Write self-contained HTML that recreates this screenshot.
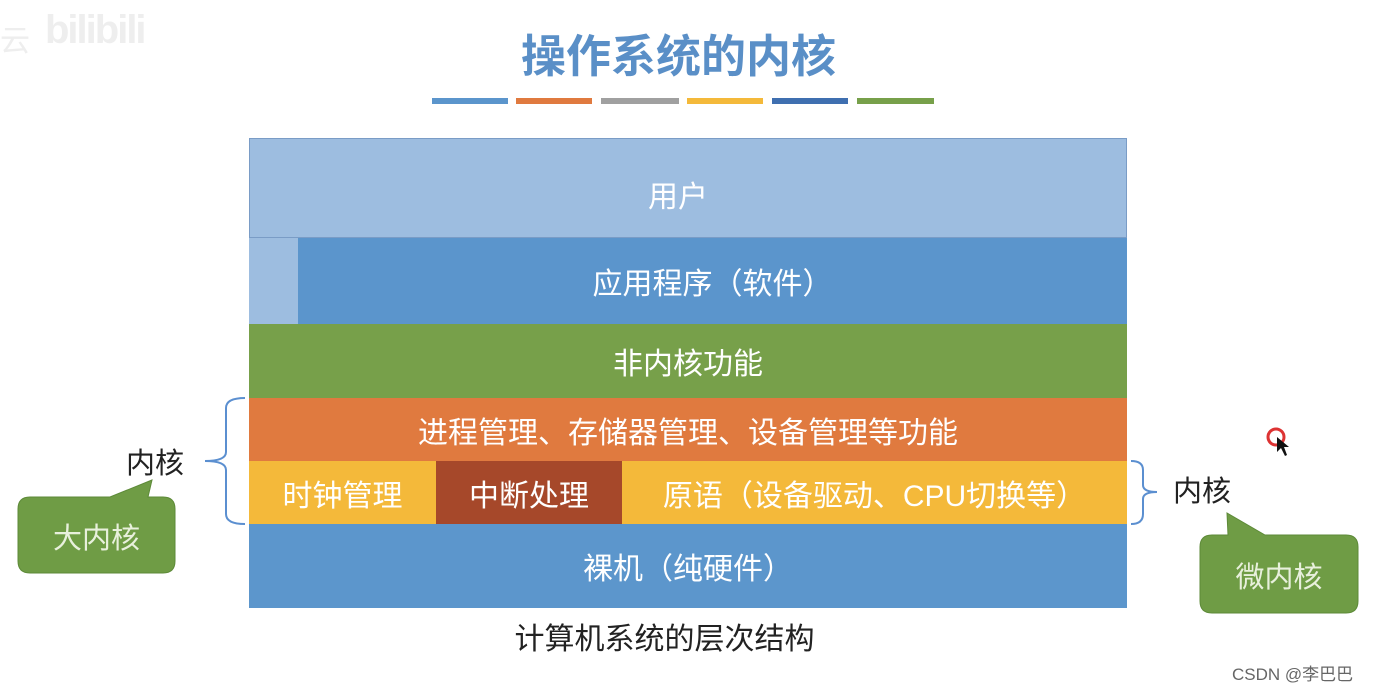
<!DOCTYPE html>
<html><head><meta charset="utf-8"><style>
body{margin:0;width:1379px;height:689px;background:#fff;position:relative;overflow:hidden;font-family:"Liberation Sans","Noto Sans CJK SC",sans-serif}
.a{position:absolute}
.b{position:absolute;display:flex;align-items:center;justify-content:center;color:#fff;font-size:30px}
</style></head><body>
<div class="a" style="left:45px;top:8px;font-size:40px;font-weight:bold;color:#eee;letter-spacing:-2px">bilibili</div>
<div class="a" style="left:0;top:16px;font-size:30px;color:#eee">云</div>
<div class="a" style="left:0;width:1379px;top:20px;text-align:center;font-size:45px;color:#5a8fc7;font-weight:bold"><span style="position:relative;left:-11px">操作系统的内核</span></div>
<div class="a" style="left:432px;top:98px;width:76px;height:6px;background:#5b95cc"></div>
<div class="a" style="left:516px;top:98px;width:76px;height:6px;background:#e07a3f"></div>
<div class="a" style="left:601px;top:98px;width:78px;height:6px;background:#a0a0a0"></div>
<div class="a" style="left:687px;top:98px;width:76px;height:6px;background:#f4b93a"></div>
<div class="a" style="left:772px;top:98px;width:76px;height:6px;background:#3f6fb0"></div>
<div class="a" style="left:857px;top:98px;width:77px;height:6px;background:#77a04a"></div>

<div class="b" style="left:249px;top:138px;width:878px;height:100px;background:#9dbde0;border:1px solid #7a9cc6;box-sizing:border-box;padding-top:12px;padding-right:20px">用户</div>
<div class="a" style="left:249px;top:238px;width:49px;height:86px;background:#9dbde0"></div>
<div class="b" style="left:298px;top:238px;width:829px;height:86px;background:#5b95cc">应用程序（软件）</div>
<div class="b" style="left:249px;top:324px;width:878px;height:74px;background:#77a04a">非内核功能</div>
<div class="b" style="left:249px;top:398px;width:878px;height:63px;background:#e07a3f">进程管理、存储器管理、设备管理等功能</div>
<div class="b" style="left:249px;top:461px;width:187px;height:63px;background:#f4b93a">时钟管理</div>
<div class="b" style="left:436px;top:461px;width:186px;height:63px;background:#a6482a">中断处理</div>
<div class="b" style="left:622px;top:461px;width:505px;height:63px;background:#f4b93a">原语（设备驱动、CPU切换等）</div>
<div class="b" style="left:249px;top:524px;width:878px;height:84px;background:#5c96cc">裸机（纯硬件）</div>
<div class="a" style="left:0;width:1379px;top:614px;text-align:center;font-size:30px;color:#222"><span style="position:relative;left:-25px">计算机系统的层次结构</span></div>

<svg class="a" style="left:0;top:0" width="1379" height="689">
<path d="M245,398 Q226,398 226,408 L226,452 Q226,461 205,461 Q226,461 226,470 L226,514 Q226,524 245,524" fill="none" stroke="#5b8fd0" stroke-width="2"/>
<path d="M1131,461 Q1143,461 1143,470 L1143,485 Q1143,492 1157,492 Q1143,492 1143,499 L1143,514 Q1143,524 1131,524" fill="none" stroke="#5b8fd0" stroke-width="2"/>
<path d="M30,497 L110,497 L152,480 L148,497 L163,497 Q175,497 175,509 L175,561 Q175,573 163,573 L30,573 Q18,573 18,561 L18,509 Q18,497 30,497Z" fill="#6f9c45" stroke="#5d8a38"/>
<path d="M1212,535 L1228,535 L1227,513 L1265,535 L1346,535 Q1358,535 1358,547 L1358,601 Q1358,613 1346,613 L1212,613 Q1200,613 1200,601 L1200,547 Q1200,535 1212,535Z" fill="#6f9c45" stroke="#5d8a38"/>
<circle cx="1276" cy="437" r="8" fill="none" stroke="#d33" stroke-width="3"/>
<path d="M1277,437 L1277,452 L1281,448 L1285,456 L1287,455 L1284,447 L1289,447Z" fill="#111"/>
</svg>
<div class="a" style="left:126px;top:440px;font-size:29px;color:#222">内核</div>
<div class="a" style="left:1173px;top:468px;font-size:29px;color:#222">内核</div>
<div class="a" style="left:18px;width:157px;top:515px;text-align:center;font-size:29px;color:#e8f0dc">大内核</div>
<div class="a" style="left:1200px;width:158px;top:554px;text-align:center;font-size:29px;color:#e8f0dc">微内核</div>
<div class="a" style="left:1232px;top:660px;font-size:17px;color:#666">CSDN @李巴巴</div>
</body></html>
